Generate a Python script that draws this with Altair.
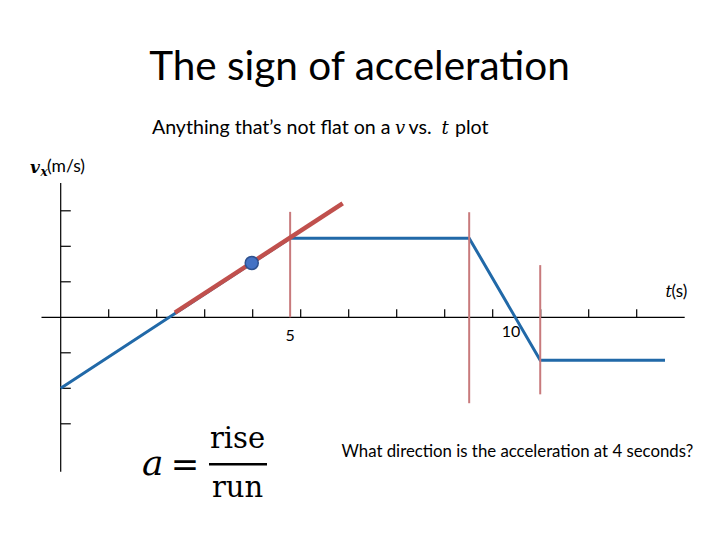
import altair as alt
import pandas as pd

# ---------------- data ----------------
T_VEL = [0.0, 4.78, 8.51, 9.99, 12.59]          # velocity graph, t in tick units
V_VEL = [-2.0, 2.23, 2.23, -1.21, -1.21]
T_TAN = [2.38, 5.875]                          # red tangent segment
V_TAN = [0.13, 3.21]
DOT_T = [3.98]
DOT_V = [1.53]
VLINE_T = [4.78, 8.51, 9.99]                   # red vertical markers
VLINE_LO = [0.0, -2.42, -2.17]
VLINE_HI = [2.97, 2.96, 1.47]
X_AXIS = [-0.4, 13.0]
Y_AXIS = [-4.35, 3.78]
X_TICKS = [1, 2, 3, 4, 5, 6, 7, 8, 9, 10, 11, 12]
Y_TICKS = [-3, -2, -1, 1, 2, 3]
X_TICK_LEN = 0.225
Y_TICK_LEN = 0.21
X_LABELS = ["5", "10"]
X_LABEL_T = [4.78, 9.38]
X_LABEL_V = [-0.53, -0.4]

W, H = 704, 520
X_DOM = [-52.7 / 48, (W - 52.7) / 48]
Y_DOM = [-(H - 309.3) / 35.5, 309.3 / 35.5]

xs = alt.Scale(domain=X_DOM, nice=False, zero=False)
ys = alt.Scale(domain=Y_DOM, nice=False, zero=False)

BLUE = "#2169A8"
RED = "#C0504D"
RED_LIGHT = "#C87A7C"


def X(f):
    return alt.X(f, type="quantitative", scale=xs, axis=None)


def Y(f):
    return alt.Y(f, type="quantitative", scale=ys, axis=None)


# axes
xaxis = alt.Chart(pd.DataFrame({"a": [X_AXIS[0]], "b": [X_AXIS[1]], "v": [0]})).mark_rule(
    color="black", strokeWidth=1.2).encode(x=X("a"), x2="b", y=Y("v"))
yaxis = alt.Chart(pd.DataFrame({"a": [Y_AXIS[0]], "b": [Y_AXIS[1]], "t": [0]})).mark_rule(
    color="black", strokeWidth=1.2).encode(y=Y("a"), y2="b", x=X("t"))
xt = alt.Chart(pd.DataFrame({"t": X_TICKS, "lo": [0] * len(X_TICKS),
                             "hi": [X_TICK_LEN] * len(X_TICKS)})).mark_rule(
    color="black", strokeWidth=1.2).encode(x=X("t"), y=Y("lo"), y2="hi")
yt = alt.Chart(pd.DataFrame({"v": Y_TICKS, "lo": [0] * len(Y_TICKS),
                             "hi": [Y_TICK_LEN] * len(Y_TICKS)})).mark_rule(
    color="black", strokeWidth=1.2).encode(y=Y("v"), x=X("lo"), x2="hi")

vel = alt.Chart(pd.DataFrame({"t": T_VEL, "v": V_VEL})).mark_line(
    color=BLUE, strokeWidth=3).encode(x=X("t"), y=Y("v"))
vlines = alt.Chart(pd.DataFrame({"t": VLINE_T, "lo": VLINE_LO, "hi": VLINE_HI})).mark_rule(
    color=RED_LIGHT, strokeWidth=2).encode(x=X("t"), y=Y("lo"), y2="hi")
tan = alt.Chart(pd.DataFrame({"t": T_TAN, "v": V_TAN})).mark_line(
    color=RED, strokeWidth=4.5).encode(x=X("t"), y=Y("v"))
dot = alt.Chart(pd.DataFrame({"t": DOT_T, "v": DOT_V})).mark_point(
    filled=True, fill="#4472C4", stroke="#2F528F", strokeWidth=1.5, size=170,
    opacity=1).encode(x=X("t"), y=Y("v"))
xlab = alt.Chart(pd.DataFrame({"t": X_LABEL_T, "v": X_LABEL_V, "s": X_LABELS})).mark_text(
    font="Lato", fontSize=16, baseline="middle", align="center", color="black").encode(
    x=X("t"), y=Y("v"), text="s")


def txt(s, px, py, size, font="Lato", style="normal", weight="normal",
        align="left", color="black"):
    return alt.Chart(pd.DataFrame({"s": [s]})).mark_text(
        font=font, fontSize=size, fontStyle=style, fontWeight=weight,
        align=align, baseline="alphabetic", color=color).encode(
        text="s", x=alt.value(px - 8), y=alt.value(py - 8))


SERIF = "DejaVu Serif"
texts = [
    txt("The sign of acceleration", 359.5, 80, 40.5, align="center"),
    txt("Anything that\u2019s not flat on a", 390.5, 134, 19.6, align="right"),
    txt("v", 395, 134, 18, font=SERIF, style="italic"),
    txt("vs.", 408.5, 134, 19.6),
    txt("t", 441.5, 134, 18, font=SERIF, style="italic"),
    txt("plot", 455, 134, 19.6),
    txt("v", 30, 173, 17, font=SERIF, style="italic", weight="bold"),
    txt("x", 40.5, 176, 12, font=SERIF, style="italic", weight="bold"),
    txt("(m/s)", 47, 172, 17.5),
    txt("t", 665.5, 297, 16, font=SERIF, style="italic"),
    txt("(s)", 671.5, 297, 17),
    txt("What direction is the acceleration at 4 seconds?", 341.5, 457, 16.8),
    txt("a", 142, 475, 36, font=SERIF, style="italic"),
    txt("=", 185, 476, 34, font=SERIF, align="center"),
    txt("rise", 237.5, 448, 29, font=SERIF, align="center"),
    txt("run", 237.5, 497, 29, font=SERIF, align="center"),
]
bar = alt.Chart(pd.DataFrame({"k": [0]})).mark_rule(color="black", strokeWidth=2.5).encode(
    x=alt.value(209 - 8), x2=alt.value(267 - 8), y=alt.value(464.3 - 8))

chart = alt.layer(xaxis, yaxis, xt, yt, vel, vlines, tan, dot, xlab, bar, *texts).properties(
    width=W, height=H, padding=0, autosize=alt.AutoSizeParams(type="none"),
    background="white").configure_view(stroke=None)

chart.save("out.html", embed_options={"renderer": "svg", "actions": False})
